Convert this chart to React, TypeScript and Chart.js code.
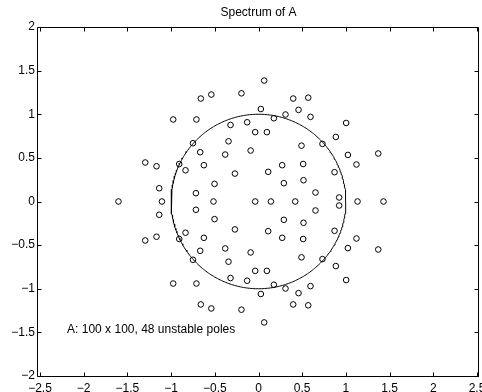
import { useEffect, useRef } from "react";
import { Chart, registerables } from "chart.js";

Chart.register(...registerables);

const titleText = "Spectrum of A";
const noteText = "A: 100 x 100, 48 unstable poles";
const noteX = -2.19;
const noteY = -1.47;

// Complex poles in the upper half plane (each has a conjugate partner)
const upperRe = [
  0.065, -0.66, -0.54, -0.195, 0.397, 0.569, 0.027, 0.458, -0.976, -0.71,
  0.176, 0.309, 0.595, -0.32, -0.13, 1.003, -0.038, 0.096, -0.75, -0.343,
  0.492, 0.732, 0.885, -0.667, -0.381, -0.09, 1.023, 1.37, -1.296, -1.167,
  -0.907, -0.835, -0.625, -0.27, 0.111, 0.271, 0.511, 0.87, 1.121, -0.503,
  0.29, 0.515, -1.136, -0.716, 0.652, 0.923,
];
const upperIm = [
  1.386, 1.18, 1.226, 1.24, 1.18, 1.19, 1.06, 1.05, 0.94, 0.94,
  0.954, 0.997, 0.97, 0.877, 0.908, 0.9, 0.795, 0.795, 0.668, 0.69,
  0.64, 0.66, 0.74, 0.565, 0.538, 0.584, 0.534, 0.55, 0.447, 0.404,
  0.43, 0.358, 0.416, 0.32, 0.34, 0.416, 0.43, 0.336, 0.424, 0.202,
  0.21, 0.244, 0.152, 0.095, 0.103, 0.046,
];
// Real poles
const realPoles = [-1.602, -1.105, -0.515, -0.038, 0.142, 0.42, 1.133, 1.43];

const xMin = -2.5;
const xMax = 2.5;
const yMin = -2;
const yMax = 2;
const tickStep = 0.5;

const FONT = '"Liberation Sans", Arial, Helvetica, sans-serif';
const FONT_SIZE = 12;

const fmt = (v: number) => {
  const s = String(Math.round(v * 10) / 10);
  return s.startsWith("-") ? "\u2212" + s.slice(1) : s;
};

const framePlugin = {
  id: "matlabFrame",
  afterDraw(chart: any) {
    const { ctx, chartArea: a } = chart;
    const xs = chart.scales.x;
    const ys = chart.scales.y;
    ctx.save();
    ctx.strokeStyle = "#000";
    ctx.lineWidth = 1;
    const L = Math.round(a.left) - 2.5;
    const R = Math.round(a.right) + 1.5;
    const T = Math.round(a.top) + 0.5;
    const B = Math.round(a.bottom) + 0.5;
    ctx.beginPath();
    ctx.rect(L, T, R - L, B - T);
    const tl = 4;
    xs.ticks.forEach((t: any) => {
      const px = Math.round(xs.getPixelForValue(t.value)) + 0.5;
      ctx.moveTo(px, B);
      ctx.lineTo(px, B - tl);
      ctx.moveTo(px, T);
      ctx.lineTo(px, T + tl);
    });
    ys.ticks.forEach((t: any) => {
      const py = Math.round(ys.getPixelForValue(t.value)) + 0.5;
      ctx.moveTo(L, py);
      ctx.lineTo(L + tl, py);
      ctx.moveTo(R, py);
      ctx.lineTo(R - tl, py);
    });
    ctx.stroke();
    ctx.fillStyle = "#000";
    ctx.font = FONT_SIZE + "px " + FONT;
    ctx.textAlign = "center";
    ctx.textBaseline = "middle";
    ctx.fillText(titleText, (a.left + a.right) / 2, 13);
    ctx.textAlign = "left";
    ctx.fillText(noteText, xs.getPixelForValue(noteX), ys.getPixelForValue(noteY));
    ctx.restore();
  },
};

export default function App() {
  const ref = useRef<HTMLCanvasElement | null>(null);

  useEffect(() => {
    if (!ref.current) return;
    const poles: { x: number; y: number }[] = [];
    upperRe.forEach((re, i) => {
      poles.push({ x: re, y: upperIm[i] });
      poles.push({ x: re, y: -upperIm[i] });
    });
    realPoles.forEach((re) => poles.push({ x: re, y: 0 }));

    const circle: { x: number; y: number }[] = [];
    for (let k = 0; k <= 360; k++) {
      const t = (k / 360) * 2 * Math.PI;
      circle.push({ x: Math.cos(t), y: Math.sin(t) });
    }

    const chart = new Chart(ref.current, {
      type: "scatter",
      data: {
        datasets: [
          {
            label: "unit circle",
            data: circle,
            showLine: true,
            borderColor: "#000",
            borderWidth: 1,
            pointRadius: 0,
            fill: false,
            order: 2,
          } as any,
          {
            label: "poles",
            data: poles,
            pointStyle: "circle",
            pointRadius: 2.8,
            borderColor: "#000",
            backgroundColor: "rgba(0,0,0,0)",
            borderWidth: 1,
            order: 1,
          },
        ],
      },
      options: {
        responsive: false,
        animation: false,
        events: [],
        layout: { padding: { top: 27, right: 4, left: 0, bottom: 0 } },
        plugins: {
          legend: { display: false },
          title: { display: false },
          tooltip: { enabled: false },
        },
        scales: {
          x: {
            type: "linear",
            min: xMin,
            max: xMax,
            grid: { display: false, drawTicks: false },
            border: { display: false },
            ticks: {
              stepSize: tickStep,
              color: "#000",
              font: { family: FONT, size: FONT_SIZE },
              padding: 5,
              maxRotation: 0,
              autoSkip: false,
              callback: (v: any) => fmt(Number(v)),
            },
            afterFit: (s: any) => {
              s.height = 16;
              s.paddingLeft = 0;
              s.paddingRight = 0;
            },
          },
          y: {
            type: "linear",
            min: yMin,
            max: yMax,
            grid: { display: false, drawTicks: false },
            border: { display: false },
            ticks: {
              stepSize: tickStep,
              color: "#000",
              font: { family: FONT, size: FONT_SIZE },
              padding: 5,
              autoSkip: false,
              callback: (v: any) => fmt(Number(v)),
            },
            afterFit: (s: any) => {
              s.width = 40;
              s.paddingTop = 0;
              s.paddingBottom = 0;
            },
          },
        },
      },
      plugins: [framePlugin],
    });
    return () => chart.destroy();
  }, []);

  return (
    <div style={{ position: "absolute", left: 0, top: 0, width: 482, height: 392, background: "#fff" }}>
      <canvas ref={ref} width={482} height={392} />
    </div>
  );
}
